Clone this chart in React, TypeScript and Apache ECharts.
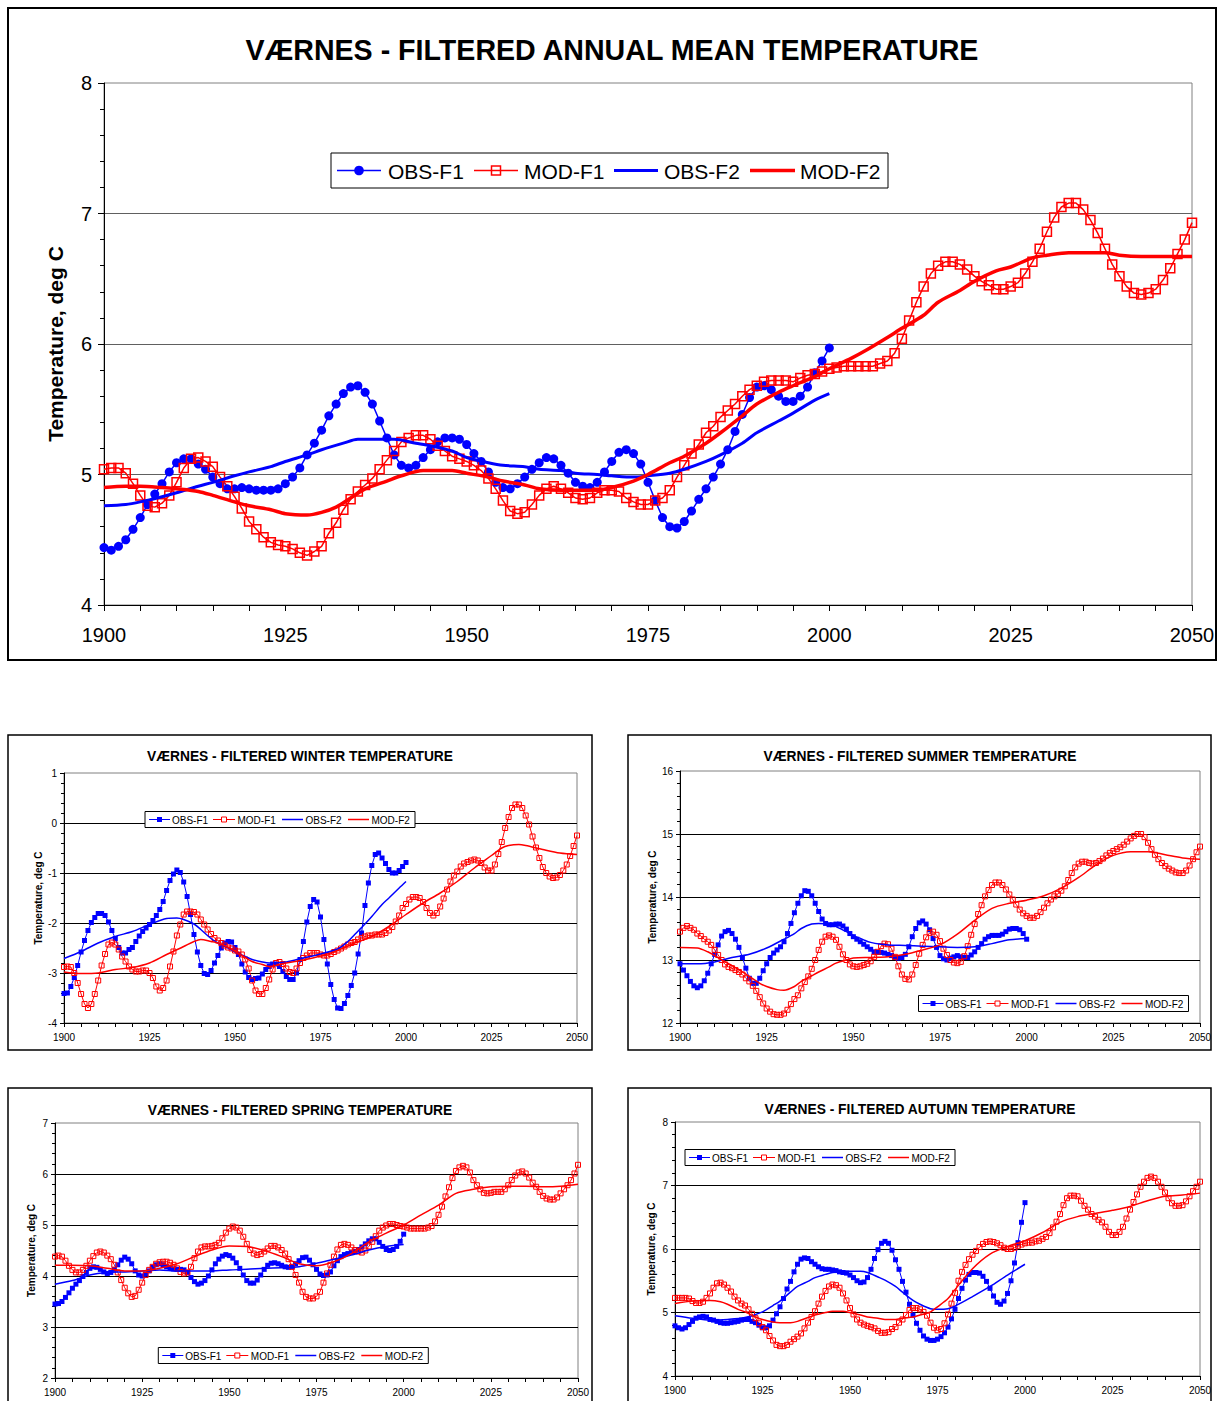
import React, { useEffect, useRef } from 'react';
import * as echarts from 'echarts';

const FONT = '"Liberation Sans", Arial, Helvetica, sans-serif';
const BLUE = '#0000FF';
const RED = '#FF0000';

// ---------- shared year axes ----------
const OBS_START = 1900; // OBS-F1 observed, 1900-2000
const MOD_START = 1900; // MOD-F1 modelled, 1900-2050
const X_TICKS = [1900, 1925, 1950, 1975, 2000, 2025, 2050];

// ---------- ANNUAL ----------
const ANNUAL_OBS_F1 = [
  4.44, 4.42, 4.45, 4.50, 4.58, 4.67, 4.77, 4.85, 4.93, 5.02,
  5.09, 5.12, 5.12, 5.08, 5.04, 4.98, 4.93, 4.89, 4.89, 4.90,
  4.89, 4.88, 4.88, 4.88, 4.89, 4.93, 4.98, 5.05, 5.15, 5.24,
  5.34, 5.45, 5.54, 5.62, 5.67, 5.68, 5.63, 5.54, 5.41, 5.28,
  5.15, 5.07, 5.05, 5.07, 5.13, 5.19, 5.25, 5.28, 5.28, 5.27,
  5.23, 5.16, 5.10, 5.02, 4.94, 4.90, 4.89, 4.93, 4.98, 5.04,
  5.09, 5.13, 5.12, 5.07, 5.01, 4.94, 4.91, 4.90, 4.94, 5.02,
  5.10, 5.17, 5.19, 5.16, 5.08, 4.94, 4.80, 4.67, 4.60, 4.59,
  4.64, 4.72, 4.81, 4.89, 4.98, 5.08, 5.19, 5.33, 5.46, 5.59,
  5.67, 5.68, 5.65, 5.60, 5.56, 5.56, 5.60, 5.67, 5.78, 5.87,
  5.97,
];
const ANNUAL_MOD_F1 = [
  5.04, 5.05, 5.05, 5.01, 4.93, 4.84, 4.76, 4.75, 4.78, 4.84,
  4.94, 5.05, 5.12, 5.13, 5.10, 5.06, 4.98, 4.91, 4.83, 4.74,
  4.64, 4.58, 4.52, 4.48, 4.46, 4.45, 4.43, 4.40, 4.38, 4.41,
  4.45, 4.55, 4.63, 4.73, 4.81, 4.87, 4.92, 4.97, 5.04, 5.11,
  5.18, 5.25, 5.28, 5.30, 5.30, 5.27, 5.22, 5.18, 5.14, 5.12,
  5.10, 5.07, 5.03, 4.97, 4.89, 4.80, 4.72, 4.70, 4.71, 4.77,
  4.84, 4.89, 4.91, 4.89, 4.86, 4.82, 4.81, 4.82, 4.86, 4.88,
  4.88, 4.87, 4.82, 4.79, 4.77, 4.77, 4.80, 4.82, 4.88, 4.98,
  5.07, 5.16, 5.23, 5.32, 5.37, 5.44, 5.49, 5.54, 5.60, 5.65,
  5.68, 5.71, 5.72, 5.72, 5.72, 5.71, 5.74, 5.76, 5.77, 5.79,
  5.81, 5.82, 5.83, 5.83, 5.83, 5.83, 5.83, 5.85, 5.87, 5.93,
  6.04, 6.18, 6.32, 6.44, 6.54, 6.60, 6.63, 6.63, 6.61, 6.57,
  6.52, 6.48, 6.45, 6.42, 6.42, 6.44, 6.47, 6.54, 6.63, 6.73,
  6.86, 6.97, 7.05, 7.08, 7.08, 7.03, 6.95, 6.85, 6.73, 6.61,
  6.52, 6.44, 6.39, 6.38, 6.39, 6.42, 6.49, 6.58, 6.69, 6.80,
  6.93,
];
const ANNUAL_OBS_F2_YEARS = [1900, 1903, 1905, 1908, 1910, 1913, 1915, 1918, 1920, 1923, 1925, 1928, 1930, 1933, 1935, 1938, 1940, 1943, 1945, 1948, 1950, 1953, 1955, 1958, 1960, 1963, 1965, 1968, 1970, 1973, 1975, 1978, 1980, 1983, 1985, 1988, 1990, 1993, 1995, 1998, 2000];
const ANNUAL_OBS_F2 = [4.76, 4.77, 4.79, 4.83, 4.86, 4.91, 4.94, 4.99, 5.02, 5.06, 5.10, 5.15, 5.19, 5.24, 5.27, 5.27, 5.27, 5.24, 5.22, 5.18, 5.13, 5.09, 5.07, 5.06, 5.04, 5.03, 5.01, 5.00, 4.99, 4.98, 4.99, 5.01, 5.04, 5.10, 5.15, 5.24, 5.32, 5.41, 5.47, 5.57, 5.62];
const ANNUAL_MOD_F2_YEARS = [1900, 1903, 1905, 1908, 1910, 1913, 1915, 1918, 1920, 1923, 1925, 1928, 1930, 1932, 1934, 1936, 1939, 1941, 1944, 1948, 1950, 1953, 1955, 1958, 1960, 1963, 1965, 1968, 1970, 1973, 1975, 1978, 1980, 1983, 1985, 1988, 1990, 1993, 1995, 1998, 2000, 2003, 2005, 2008, 2010, 2013, 2015, 2018, 2020, 2023, 2025, 2028, 2030, 2033, 2035, 2038, 2040, 2043, 2045, 2048, 2050];
const ANNUAL_MOD_F2 = [4.90, 4.91, 4.91, 4.90, 4.89, 4.87, 4.84, 4.79, 4.76, 4.73, 4.70, 4.69, 4.71, 4.75, 4.82, 4.89, 4.95, 4.99, 5.03, 5.03, 5.01, 4.98, 4.95, 4.92, 4.89, 4.88, 4.88, 4.88, 4.90, 4.95, 5.00, 5.09, 5.14, 5.24, 5.32, 5.45, 5.54, 5.63, 5.68, 5.75, 5.81, 5.89, 5.95, 6.05, 6.12, 6.22, 6.32, 6.41, 6.48, 6.56, 6.59, 6.66, 6.68, 6.70, 6.70, 6.70, 6.68, 6.67, 6.67, 6.67, 6.67];

// ---------- WINTER ----------
const WINTER_OBS_F1 = [
  -3.41, -3.40, -3.27, -3.09, -2.85, -2.58, -2.35, -2.15, -1.99, -1.89,
  -1.81, -1.81, -1.85, -1.98, -2.15, -2.31, -2.49, -2.60, -2.60, -2.53,
  -2.49, -2.37, -2.26, -2.17, -2.10, -2.03, -1.95, -1.85, -1.73, -1.57,
  -1.35, -1.15, -1.02, -0.94, -0.99, -1.18, -1.47, -1.83, -2.23, -2.58,
  -2.85, -3.01, -3.03, -2.95, -2.80, -2.65, -2.50, -2.40, -2.37, -2.38,
  -2.49, -2.63, -2.82, -2.98, -3.09, -3.13, -3.11, -3.10, -3.02, -2.93,
  -2.87, -2.82, -2.82, -2.87, -2.97, -3.07, -3.13, -3.13, -3.00, -2.73,
  -2.37, -1.98, -1.67, -1.53, -1.58, -1.88, -2.33, -2.82, -3.23, -3.53,
  -3.70, -3.71, -3.61, -3.45, -3.25, -3.00, -2.62, -2.20, -1.65, -1.20,
  -0.85, -0.63, -0.60, -0.70, -0.81, -0.93, -1.00, -1.00, -0.95, -0.87,
  -0.79,
];
const WINTER_MOD_F1 = [
  -2.88, -2.87, -2.88, -3.00, -3.20, -3.42, -3.62, -3.70, -3.62, -3.42,
  -3.15, -2.85, -2.62, -2.43, -2.39, -2.43, -2.53, -2.67, -2.77, -2.87,
  -2.93, -2.97, -2.97, -2.95, -2.95, -3.00, -3.10, -3.27, -3.35, -3.30,
  -3.15, -2.87, -2.57, -2.25, -2.03, -1.83, -1.77, -1.77, -1.78, -1.83,
  -1.93, -2.03, -2.13, -2.22, -2.30, -2.35, -2.40, -2.45, -2.49, -2.51,
  -2.55, -2.57, -2.63, -2.73, -2.91, -3.15, -3.35, -3.42, -3.42, -3.30,
  -3.13, -2.93, -2.80, -2.78, -2.82, -2.91, -2.98, -3.00, -2.91, -2.80,
  -2.70, -2.65, -2.60, -2.60, -2.60, -2.63, -2.65, -2.65, -2.62, -2.58,
  -2.55, -2.51, -2.47, -2.43, -2.40, -2.38, -2.33, -2.30, -2.27, -2.25,
  -2.25, -2.23, -2.23, -2.23, -2.20, -2.15, -2.08, -1.97, -1.85, -1.70,
  -1.62, -1.53, -1.48, -1.48, -1.50, -1.58, -1.70, -1.80, -1.85, -1.80,
  -1.67, -1.51, -1.33, -1.17, -1.05, -0.97, -0.87, -0.81, -0.78, -0.75,
  -0.73, -0.75, -0.80, -0.89, -0.95, -0.95, -0.83, -0.62, -0.38, -0.10,
  0.12, 0.30, 0.37, 0.37, 0.30, 0.15, -0.03, -0.27, -0.49, -0.70,
  -0.88, -1.00, -1.07, -1.10, -1.09, -1.04, -0.95, -0.83, -0.66, -0.46,
  -0.25,
];
const WINTER_OBS_F2_YEARS = [1900, 1905, 1910, 1915, 1920, 1925, 1930, 1933, 1935, 1938, 1940, 1943, 1945, 1948, 1950, 1953, 1955, 1958, 1960, 1965, 1970, 1975, 1980, 1983, 1985, 1988, 1990, 1993, 1995, 1998, 2000];
const WINTER_OBS_F2 = [-2.71, -2.57, -2.40, -2.27, -2.17, -2.03, -1.91, -1.90, -1.93, -2.02, -2.13, -2.31, -2.40, -2.50, -2.58, -2.67, -2.73, -2.78, -2.80, -2.78, -2.70, -2.62, -2.52, -2.37, -2.23, -2.02, -1.87, -1.63, -1.50, -1.30, -1.17];
const WINTER_MOD_F2_YEARS = [1900, 1905, 1910, 1915, 1920, 1925, 1930, 1935, 1938, 1940, 1943, 1945, 1948, 1950, 1953, 1955, 1958, 1960, 1963, 1965, 1970, 1975, 1980, 1985, 1990, 1995, 2000, 2005, 2010, 2015, 2020, 2025, 2028, 2030, 2033, 2035, 2040, 2045, 2050];
const WINTER_MOD_F2 = [-2.98, -3.01, -3.00, -2.93, -2.89, -2.80, -2.63, -2.47, -2.37, -2.33, -2.37, -2.40, -2.49, -2.57, -2.69, -2.77, -2.83, -2.87, -2.83, -2.80, -2.74, -2.66, -2.55, -2.40, -2.27, -2.07, -1.83, -1.60, -1.40, -1.17, -0.90, -0.65, -0.50, -0.45, -0.43, -0.45, -0.53, -0.60, -0.63];

// ---------- SUMMER ----------
const SUMMER_OBS_F1 = [
  12.94, 12.84, 12.75, 12.66, 12.59, 12.56, 12.59, 12.67, 12.79, 12.94,
  13.09, 13.24, 13.38, 13.45, 13.47, 13.42, 13.33, 13.20, 13.04, 12.87,
  12.71, 12.63, 12.63, 12.71, 12.83, 12.94, 13.04, 13.11, 13.16, 13.21,
  13.29, 13.42, 13.58, 13.75, 13.90, 14.02, 14.10, 14.09, 14.02, 13.90,
  13.77, 13.65, 13.58, 13.56, 13.56, 13.57, 13.57, 13.54, 13.49, 13.42,
  13.37, 13.33, 13.29, 13.25, 13.21, 13.17, 13.13, 13.12, 13.12, 13.11,
  13.09, 13.07, 13.04, 13.03, 13.04, 13.09, 13.21, 13.37, 13.50, 13.59,
  13.62, 13.57, 13.48, 13.34, 13.20, 13.07, 13.02, 13.00, 13.03, 13.05,
  13.07, 13.05, 13.04, 13.04, 13.08, 13.13, 13.20, 13.26, 13.33, 13.37,
  13.39, 13.39, 13.39, 13.41, 13.45, 13.49, 13.50, 13.50, 13.48, 13.42,
  13.33,
];
const SUMMER_MOD_F1 = [
  13.45, 13.51, 13.54, 13.51, 13.48, 13.42, 13.38, 13.33, 13.29, 13.24,
  13.16, 13.08, 13.00, 12.93, 12.89, 12.87, 12.84, 12.81, 12.77, 12.71,
  12.66, 12.59, 12.51, 12.41, 12.31, 12.23, 12.18, 12.14, 12.13, 12.13,
  12.15, 12.21, 12.30, 12.38, 12.44, 12.55, 12.65, 12.74, 12.86, 13.00,
  13.16, 13.29, 13.37, 13.39, 13.37, 13.32, 13.21, 13.09, 13.00, 12.93,
  12.90, 12.89, 12.90, 12.92, 12.94, 12.98, 13.05, 13.13, 13.22, 13.26,
  13.25, 13.18, 13.05, 12.90, 12.77, 12.70, 12.69, 12.77, 12.92, 13.10,
  13.24, 13.36, 13.43, 13.45, 13.40, 13.30, 13.18, 13.08, 13.00, 12.96,
  12.95, 12.97, 13.06, 13.22, 13.40, 13.57, 13.73, 13.87, 14.01, 14.11,
  14.19, 14.23, 14.23, 14.19, 14.12, 14.04, 13.96, 13.88, 13.80, 13.74,
  13.70, 13.67, 13.67, 13.70, 13.76, 13.83, 13.90, 13.96, 14.01, 14.05,
  14.10, 14.17, 14.27, 14.38, 14.47, 14.53, 14.56, 14.56, 14.54, 14.53,
  14.54, 14.57, 14.61, 14.66, 14.70, 14.73, 14.76, 14.79, 14.83, 14.88,
  14.93, 14.97, 15.00, 15.00, 14.95, 14.86, 14.76, 14.67, 14.60, 14.54,
  14.49, 14.45, 14.42, 14.39, 14.38, 14.38, 14.42, 14.50, 14.60, 14.71,
  14.80,
];
const SUMMER_OBS_F2_YEARS = [1900, 1905, 1910, 1915, 1920, 1925, 1930, 1933, 1935, 1938, 1940, 1943, 1945, 1948, 1950, 1953, 1955, 1958, 1960, 1965, 1970, 1975, 1980, 1985, 1990, 1995, 2000];
const SUMMER_OBS_F2 = [12.94, 12.94, 12.97, 13.04, 13.09, 13.19, 13.33, 13.42, 13.50, 13.57, 13.58, 13.57, 13.53, 13.45, 13.39, 13.32, 13.28, 13.25, 13.24, 13.23, 13.22, 13.21, 13.20, 13.21, 13.26, 13.32, 13.34];
const SUMMER_MOD_F2_YEARS = [1900, 1905, 1908, 1910, 1913, 1915, 1918, 1920, 1923, 1925, 1928, 1930, 1933, 1935, 1938, 1940, 1943, 1945, 1948, 1950, 1955, 1960, 1965, 1970, 1975, 1980, 1985, 1990, 1995, 2000, 2005, 2010, 2015, 2020, 2025, 2030, 2035, 2040, 2045, 2050];
const SUMMER_MOD_F2 = [13.20, 13.19, 13.13, 13.07, 12.97, 12.91, 12.81, 12.74, 12.63, 12.58, 12.53, 12.52, 12.58, 12.66, 12.75, 12.81, 12.89, 12.95, 13.00, 13.03, 13.04, 13.05, 13.09, 13.16, 13.24, 13.41, 13.63, 13.82, 13.90, 13.95, 14.02, 14.14, 14.31, 14.51, 14.66, 14.72, 14.72, 14.67, 14.62, 14.60];

// ---------- SPRING ----------
const SPRING_OBS_F1 = [
  3.45, 3.46, 3.50, 3.58, 3.67, 3.76, 3.84, 3.91, 3.99, 4.07,
  4.15, 4.18, 4.17, 4.13, 4.08, 4.05, 4.07, 4.13, 4.22, 4.31,
  4.37, 4.33, 4.24, 4.10, 4.02, 4.00, 4.04, 4.10, 4.17, 4.22,
  4.24, 4.22, 4.18, 4.16, 4.14, 4.13, 4.13, 4.12, 4.07, 3.97,
  3.89, 3.84, 3.86, 3.91, 4.00, 4.12, 4.24, 4.33, 4.39, 4.42,
  4.40, 4.35, 4.26, 4.15, 4.02, 3.91, 3.86, 3.86, 3.92, 4.02,
  4.13, 4.21, 4.25, 4.26, 4.24, 4.21, 4.18, 4.17, 4.18, 4.24,
  4.30, 4.36, 4.37, 4.31, 4.22, 4.13, 4.04, 4.01, 4.02, 4.08,
  4.20, 4.30, 4.38, 4.42, 4.44, 4.46, 4.48, 4.52, 4.57, 4.63,
  4.69, 4.73, 4.73, 4.66, 4.58, 4.52, 4.50, 4.52, 4.58, 4.68,
  4.82,
];
const SPRING_MOD_F1 = [
  4.38, 4.40, 4.38, 4.30, 4.20, 4.12, 4.07, 4.07, 4.12, 4.20,
  4.30, 4.39, 4.46, 4.48, 4.46, 4.40, 4.33, 4.22, 4.07, 3.92,
  3.77, 3.66, 3.59, 3.61, 3.73, 3.87, 4.02, 4.12, 4.18, 4.24,
  4.27, 4.28, 4.28, 4.26, 4.22, 4.15, 4.08, 4.05, 4.07, 4.18,
  4.35, 4.48, 4.56, 4.58, 4.58, 4.59, 4.61, 4.65, 4.74, 4.85,
  4.93, 4.97, 4.95, 4.89, 4.77, 4.63, 4.51, 4.44, 4.41, 4.43,
  4.48, 4.54, 4.59, 4.59, 4.56, 4.51, 4.44, 4.33, 4.18, 4.02,
  3.87, 3.69, 3.59, 3.56, 3.56, 3.60, 3.69, 3.87, 4.05, 4.22,
  4.38, 4.52, 4.61, 4.63, 4.61, 4.56, 4.51, 4.48, 4.46, 4.50,
  4.58, 4.67, 4.78, 4.89, 4.95, 4.99, 5.02, 5.02, 5.00, 4.98,
  4.97, 4.95, 4.93, 4.93, 4.93, 4.93, 4.93, 4.95, 4.98, 5.07,
  5.20, 5.36, 5.56, 5.74, 5.92, 6.06, 6.13, 6.16, 6.13, 6.03,
  5.88, 5.78, 5.70, 5.63, 5.62, 5.63, 5.65, 5.65, 5.65, 5.70,
  5.78, 5.88, 5.97, 6.03, 6.05, 6.01, 5.93, 5.83, 5.75, 5.65,
  5.57, 5.52, 5.50, 5.50, 5.54, 5.62, 5.70, 5.78, 5.88, 6.01,
  6.18,
];
const SPRING_OBS_F2_YEARS = [1900, 1905, 1910, 1915, 1920, 1925, 1930, 1935, 1940, 1945, 1950, 1955, 1960, 1965, 1970, 1975, 1980, 1985, 1990, 1995, 2000];
const SPRING_OBS_F2 = [3.84, 3.91, 4.02, 4.07, 4.08, 4.10, 4.12, 4.10, 4.10, 4.10, 4.12, 4.13, 4.15, 4.16, 4.18, 4.25, 4.33, 4.41, 4.51, 4.58, 4.62];
const SPRING_MOD_F2_YEARS = [1900, 1905, 1910, 1915, 1920, 1925, 1930, 1935, 1940, 1945, 1950, 1955, 1960, 1965, 1970, 1975, 1980, 1985, 1990, 1995, 2000, 2005, 2010, 2015, 2020, 2025, 2030, 2035, 2040, 2045, 2050];
const SPRING_MOD_F2 = [4.21, 4.21, 4.20, 4.15, 4.10, 4.10, 4.15, 4.24, 4.38, 4.51, 4.59, 4.58, 4.50, 4.38, 4.24, 4.20, 4.28, 4.44, 4.67, 4.84, 5.00, 5.20, 5.39, 5.62, 5.70, 5.75, 5.76, 5.76, 5.75, 5.76, 5.80];

// ---------- AUTUMN ----------
const AUTUMN_OBS_F1 = [
  4.79, 4.76, 4.74, 4.76, 4.81, 4.86, 4.91, 4.93, 4.94, 4.93,
  4.89, 4.88, 4.86, 4.84, 4.83, 4.83, 4.84, 4.85, 4.86, 4.88,
  4.89, 4.89, 4.86, 4.84, 4.80, 4.76, 4.76, 4.79, 4.88, 4.98,
  5.09, 5.22, 5.37, 5.49, 5.64, 5.76, 5.84, 5.86, 5.85, 5.80,
  5.76, 5.72, 5.69, 5.68, 5.68, 5.67, 5.66, 5.64, 5.63, 5.62,
  5.59, 5.55, 5.50, 5.47, 5.48, 5.55, 5.68, 5.85, 5.99, 6.09,
  6.12, 6.09, 5.98, 5.83, 5.68, 5.49, 5.32, 5.13, 4.96, 4.83,
  4.72, 4.63, 4.58, 4.56, 4.56, 4.58, 4.62, 4.68, 4.77, 4.90,
  5.05, 5.22, 5.38, 5.51, 5.60, 5.63, 5.63, 5.62, 5.57, 5.49,
  5.38, 5.26, 5.16, 5.13, 5.18, 5.30, 5.50, 5.78, 6.10, 6.42,
  6.73,
];
const AUTUMN_MOD_F1 = [
  5.23, 5.23, 5.23, 5.23, 5.22, 5.18, 5.15, 5.15, 5.17, 5.23,
  5.30, 5.39, 5.46, 5.47, 5.44, 5.39, 5.33, 5.25, 5.19, 5.14,
  5.11, 5.05, 4.98, 4.91, 4.83, 4.77, 4.72, 4.63, 4.56, 4.49,
  4.47, 4.47, 4.49, 4.54, 4.58, 4.62, 4.67, 4.75, 4.84, 4.93,
  5.02, 5.14, 5.25, 5.34, 5.41, 5.44, 5.43, 5.39, 5.30, 5.19,
  5.07, 4.97, 4.89, 4.84, 4.81, 4.79, 4.77, 4.75, 4.71, 4.68,
  4.68, 4.69, 4.74, 4.77, 4.84, 4.89, 4.96, 5.04, 5.07, 5.07,
  5.05, 5.01, 4.95, 4.84, 4.76, 4.72, 4.74, 4.83, 4.97, 5.14,
  5.31, 5.50, 5.64, 5.75, 5.84, 5.91, 5.97, 6.03, 6.08, 6.11,
  6.12, 6.11, 6.09, 6.06, 6.02, 6.00, 6.00, 6.02, 6.05, 6.07,
  6.09, 6.10, 6.10, 6.12, 6.13, 6.16, 6.19, 6.25, 6.34, 6.43,
  6.55, 6.69, 6.80, 6.84, 6.84, 6.83, 6.76, 6.68, 6.62, 6.55,
  6.51, 6.46, 6.42, 6.35, 6.27, 6.22, 6.22, 6.27, 6.35, 6.48,
  6.62, 6.74, 6.86, 6.98, 7.06, 7.12, 7.14, 7.12, 7.06, 6.98,
  6.89, 6.80, 6.72, 6.68, 6.68, 6.69, 6.75, 6.83, 6.91, 6.98,
  7.06,
];
const AUTUMN_OBS_F2_YEARS = [1900, 1905, 1910, 1915, 1920, 1925, 1928, 1930, 1933, 1935, 1938, 1940, 1943, 1945, 1948, 1950, 1953, 1955, 1958, 1960, 1963, 1965, 1968, 1970, 1973, 1975, 1978, 1980, 1985, 1990, 1995, 2000];
const AUTUMN_OBS_F2 = [4.95, 4.91, 4.88, 4.89, 4.92, 5.01, 5.11, 5.18, 5.32, 5.41, 5.49, 5.55, 5.60, 5.63, 5.65, 5.65, 5.65, 5.63, 5.56, 5.51, 5.41, 5.32, 5.19, 5.13, 5.06, 5.05, 5.06, 5.10, 5.25, 5.41, 5.59, 5.76];
const AUTUMN_MOD_F2_YEARS = [1900, 1905, 1910, 1913, 1915, 1918, 1920, 1923, 1925, 1928, 1930, 1933, 1935, 1938, 1940, 1943, 1945, 1948, 1950, 1953, 1955, 1958, 1960, 1963, 1965, 1968, 1970, 1973, 1975, 1978, 1980, 1985, 1990, 1995, 2000, 2005, 2010, 2015, 2020, 2025, 2030, 2035, 2040, 2045, 2050];
const AUTUMN_MOD_F2 = [5.14, 5.18, 5.19, 5.17, 5.13, 5.05, 5.01, 4.93, 4.89, 4.85, 4.84, 4.84, 4.86, 4.92, 4.96, 5.00, 5.02, 5.02, 5.00, 4.96, 4.93, 4.91, 4.89, 4.89, 4.91, 4.93, 4.96, 5.01, 5.09, 5.22, 5.36, 5.69, 5.92, 6.04, 6.13, 6.26, 6.42, 6.51, 6.56, 6.61, 6.67, 6.76, 6.83, 6.85, 6.88];

const SERIES_NAMES = ['OBS-F1', 'MOD-F1', 'OBS-F2', 'MOD-F2'];

// ---------- panel layout (positions / styles only) ----------
type Panel = {
  title: string; titleX: number; titleY: number; titleSize: number;
  box: [number, number, number, number];
  grid: [number, number, number, number];
  yMin: number; yMax: number;
  big: boolean;
  legendX: number; legendY: number;
  nameGap: number;
  obsF1: number[]; modF1: number[];
  obsF2Y: number[]; obsF2: number[]; modF2Y: number[]; modF2: number[];
};

const PANELS: Panel[] = [
  { title: 'VÆRNES - FILTERED ANNUAL MEAN TEMPERATURE', titleX: 612, titleY: 50, titleSize: 28.6,
    box: [8, 8, 1208, 652], grid: [104, 83, 1088, 522], yMin: 4, yMax: 8, big: true,
    legendX: 331, legendY: 170.5, nameGap: 38,
    obsF1: ANNUAL_OBS_F1, modF1: ANNUAL_MOD_F1, obsF2Y: ANNUAL_OBS_F2_YEARS, obsF2: ANNUAL_OBS_F2, modF2Y: ANNUAL_MOD_F2_YEARS, modF2: ANNUAL_MOD_F2 },
  { title: 'VÆRNES - FILTERED WINTER TEMPERATURE', titleX: 300, titleY: 756, titleSize: 13.8,
    box: [8, 735, 584, 315], grid: [64, 773, 513, 250], yMin: -4, yMax: 1, big: false,
    legendX: 145, legendY: 819.5, nameGap: 21,
    obsF1: WINTER_OBS_F1, modF1: WINTER_MOD_F1, obsF2Y: WINTER_OBS_F2_YEARS, obsF2: WINTER_OBS_F2, modF2Y: WINTER_MOD_F2_YEARS, modF2: WINTER_MOD_F2 },
  { title: 'VÆRNES - FILTERED SUMMER TEMPERATURE', titleX: 920, titleY: 756, titleSize: 13.8,
    box: [628, 735, 583, 315], grid: [680, 771, 520, 252], yMin: 12, yMax: 16, big: false,
    legendX: 918.5, legendY: 1003.5, nameGap: 23,
    obsF1: SUMMER_OBS_F1, modF1: SUMMER_MOD_F1, obsF2Y: SUMMER_OBS_F2_YEARS, obsF2: SUMMER_OBS_F2, modF2Y: SUMMER_MOD_F2_YEARS, modF2: SUMMER_MOD_F2 },
  { title: 'VÆRNES - FILTERED SPRING TEMPERATURE', titleX: 300, titleY: 1110, titleSize: 13.8,
    box: [8, 1088, 584, 330], grid: [55, 1123, 523, 255], yMin: 2, yMax: 7, big: false,
    legendX: 158.3, legendY: 1355.5, nameGap: 19,
    obsF1: SPRING_OBS_F1, modF1: SPRING_MOD_F1, obsF2Y: SPRING_OBS_F2_YEARS, obsF2: SPRING_OBS_F2, modF2Y: SPRING_MOD_F2_YEARS, modF2: SPRING_MOD_F2 },
  { title: 'VÆRNES - FILTERED AUTUMN TEMPERATURE', titleX: 920, titleY: 1109, titleSize: 13.8,
    box: [628, 1088, 583, 330], grid: [675, 1122, 525, 254], yMin: 4, yMax: 8, big: false,
    legendX: 685, legendY: 1157.5, nameGap: 19,
    obsF1: AUTUMN_OBS_F1, modF1: AUTUMN_MOD_F1, obsF2Y: AUTUMN_OBS_F2_YEARS, obsF2: AUTUMN_OBS_F2, modF2Y: AUTUMN_MOD_F2_YEARS, modF2: AUTUMN_MOD_F2 },
];

const seq = (start: number, vals: number[]) => vals.map((v, i) => [start + i, v]);
const pairs = (ys: number[], vs: number[]) => vs.map((v, i) => [ys[i], v]);

function legendElements(p: Panel): any[] {
  const els: any[] = [];
  const z = 100;
  if (p.big) {
    const cy = p.legendY;
    const fs = 21;
    els.push({ type: 'rect', z, shape: { x: 331, y: 153, width: 557, height: 35 }, style: { fill: '#fff', stroke: '#000', lineWidth: 1 } });
    els.push({ type: 'line', z: z + 1, shape: { x1: 337, y1: cy, x2: 381, y2: cy }, style: { stroke: BLUE, lineWidth: 1.5 } });
    els.push({ type: 'circle', z: z + 2, shape: { cx: 359, cy, r: 4.8 }, style: { fill: BLUE } });
    els.push({ type: 'line', z: z + 1, shape: { x1: 474, y1: cy, x2: 518, y2: cy }, style: { stroke: RED, lineWidth: 1.5 } });
    els.push({ type: 'rect', z: z + 2, shape: { x: 491.5, y: cy - 4.5, width: 9, height: 9 }, style: { fill: 'none', stroke: RED, lineWidth: 1.5 } });
    els.push({ type: 'line', z: z + 1, shape: { x1: 614, y1: cy, x2: 658, y2: cy }, style: { stroke: BLUE, lineWidth: 3 } });
    els.push({ type: 'line', z: z + 1, shape: { x1: 750, y1: cy, x2: 795, y2: cy }, style: { stroke: RED, lineWidth: 3.5 } });
    const tx = [388, 524, 664, 800];
    SERIES_NAMES.forEach((n, i) => els.push({ type: 'text', z: z + 2, x: tx[i], y: cy + 1, style: { text: n, fontSize: fs, fontFamily: FONT, fill: '#000', align: 'left', verticalAlign: 'middle' } }));
  } else {
    const L = p.legendX;
    const cy = p.legendY;
    els.push({ type: 'rect', z, shape: { x: L, y: cy - 8, width: 270, height: 16 }, style: { fill: '#fff', stroke: '#000', lineWidth: 1 } });
    els.push({ type: 'line', z: z + 1, shape: { x1: L + 4, y1: cy, x2: L + 25, y2: cy }, style: { stroke: BLUE, lineWidth: 1 } });
    els.push({ type: 'rect', z: z + 2, shape: { x: L + 12, y: cy - 2.5, width: 5, height: 5 }, style: { fill: BLUE } });
    els.push({ type: 'line', z: z + 1, shape: { x1: L + 68, y1: cy, x2: L + 90, y2: cy }, style: { stroke: RED, lineWidth: 1 } });
    els.push({ type: 'rect', z: z + 2, shape: { x: L + 76.5, y: cy - 2.5, width: 5, height: 5 }, style: { fill: '#fff', stroke: RED, lineWidth: 1 } });
    els.push({ type: 'line', z: z + 1, shape: { x1: L + 137, y1: cy, x2: L + 158, y2: cy }, style: { stroke: BLUE, lineWidth: 1.5 } });
    els.push({ type: 'line', z: z + 1, shape: { x1: L + 203, y1: cy, x2: L + 224, y2: cy }, style: { stroke: RED, lineWidth: 1.5 } });
    const tx = [27, 92.5, 160.5, 226.5];
    SERIES_NAMES.forEach((n, i) => els.push({ type: 'text', z: z + 2, x: L + tx[i], y: cy + 0.5, style: { text: n, fontSize: 10, fontFamily: FONT, fill: '#000', align: 'left', verticalAlign: 'middle' } }));
  }
  return els;
}

function buildOption(): any {
  const grids = PANELS.map((p) => ({
    left: p.grid[0], top: p.grid[1], width: p.grid[2], height: p.grid[3],
    show: true, backgroundColor: '#fff', borderColor: '#808080', borderWidth: 1,
    containLabel: false, outerBoundsMode: 'none',
  }));
  const xAxes = PANELS.map((p, i) => ({
    type: 'value', gridIndex: i, min: X_TICKS[0], max: X_TICKS[X_TICKS.length - 1], interval: 25,
    axisLine: { show: true, onZero: false, lineStyle: { color: '#000', width: 1 } },
    axisTick: { show: true, length: p.big ? 6 : 4, lineStyle: { color: '#000', width: 1 } },
    minorTick: { show: true, splitNumber: 5, length: p.big ? 6 : 4, lineStyle: { color: '#000', width: 1 } },
    splitLine: { show: false },
    axisLabel: {
      color: '#000', fontSize: p.big ? 20 : 10, fontFamily: FONT, margin: p.big ? 20 : 9,
      showMinLabel: true, showMaxLabel: true,
      formatter: (v: number) => String(Math.round(v)),
    },
  }));
  const yAxes = PANELS.map((p, i) => ({
    type: 'value', gridIndex: i, min: p.yMin, max: p.yMax, interval: 1,
    name: 'Temperature, deg C', nameLocation: 'middle', nameGap: p.nameGap, nameRotate: 90,
    nameTextStyle: { color: '#000', fontSize: p.big ? 21 : 10, fontWeight: 'bold', fontFamily: FONT },
    axisLine: { show: true, onZero: false, lineStyle: { color: '#000', width: 1 } },
    axisTick: { show: true, length: p.big ? 6 : 4, lineStyle: { color: '#000', width: 1 } },
    minorTick: { show: true, splitNumber: 5, length: p.big ? 4 : 3, lineStyle: { color: '#000', width: 1 } },
    splitLine: { show: true, showMinLine: false, showMaxLine: false, lineStyle: { color: p.big ? '#606060' : '#000', width: 1 } },
    axisLabel: { color: '#000', fontSize: p.big ? 20 : 10, fontFamily: FONT, margin: p.big ? 12 : 7, formatter: (v: number) => String(v) },
  }));
  const series: any[] = [];
  PANELS.forEach((p, i) => {
    const ss = p.big ? 9 : 5;
    series.push({
      type: 'line', name: SERIES_NAMES[0], xAxisIndex: i, yAxisIndex: i, silent: true, z: 3,
      data: seq(OBS_START, p.obsF1), symbol: p.big ? 'circle' : 'rect', symbolSize: ss, showSymbol: true,
      itemStyle: { color: BLUE }, lineStyle: { color: BLUE, width: p.big ? 1.5 : 1 },
    });
    series.push({
      type: 'line', name: SERIES_NAMES[1], xAxisIndex: i, yAxisIndex: i, silent: true, z: 3,
      data: seq(MOD_START, p.modF1), symbol: 'rect', symbolSize: p.big ? 9 : 5, showSymbol: true,
      itemStyle: { color: 'rgba(255,255,255,0)', borderColor: RED, borderWidth: p.big ? 1.5 : 1 },
      lineStyle: { color: RED, width: p.big ? 1.5 : 1 },
    });
    series.push({
      type: 'line', name: SERIES_NAMES[2], xAxisIndex: i, yAxisIndex: i, silent: true, z: 4,
      data: pairs(p.obsF2Y, p.obsF2), symbol: 'none', showSymbol: false, smooth: 0.3,
      itemStyle: { color: BLUE }, lineStyle: { color: BLUE, width: p.big ? 3 : 1.5 },
    });
    series.push({
      type: 'line', name: SERIES_NAMES[3], xAxisIndex: i, yAxisIndex: i, silent: true, z: 4,
      data: pairs(p.modF2Y, p.modF2), symbol: 'none', showSymbol: false, smooth: 0.3,
      itemStyle: { color: RED }, lineStyle: { color: RED, width: p.big ? 3.5 : 1.5 },
    });
  });
  const titles = PANELS.map((p) => ({
    text: p.title, left: p.titleX, top: p.titleY, textAlign: 'center', textVerticalAlign: 'middle', padding: 0,
    textStyle: { color: '#000', fontSize: p.titleSize, fontWeight: 'bold', fontFamily: FONT },
  }));
  const graphics: any[] = [];
  PANELS.forEach((p) => {
    graphics.push({ type: 'rect', z: 1, silent: true, shape: { x: p.box[0], y: p.box[1], width: p.box[2], height: p.box[3] },
      style: { fill: 'none', stroke: '#000', lineWidth: p.big ? 2 : 1.5 } });
    legendElements(p).forEach((e) => graphics.push({ ...e, silent: true }));
  });
  return {
    animation: false,
    backgroundColor: '#fff',
    textStyle: { fontFamily: FONT },
    title: titles,
    grid: grids,
    xAxis: xAxes,
    yAxis: yAxes,
    series,
    graphic: graphics,
  };
}

export default function App() {
  const ref = useRef<HTMLDivElement>(null);
  useEffect(() => {
    if (!ref.current) return;
    const chart = echarts.init(ref.current, undefined, { renderer: 'svg' });
    chart.setOption(buildOption());
    return () => chart.dispose();
  }, []);
  return (
    <div
      ref={ref}
      style={{ position: 'absolute', left: 0, top: 0, width: 1221, height: 1401, background: '#fff' }}
    />
  );
}
